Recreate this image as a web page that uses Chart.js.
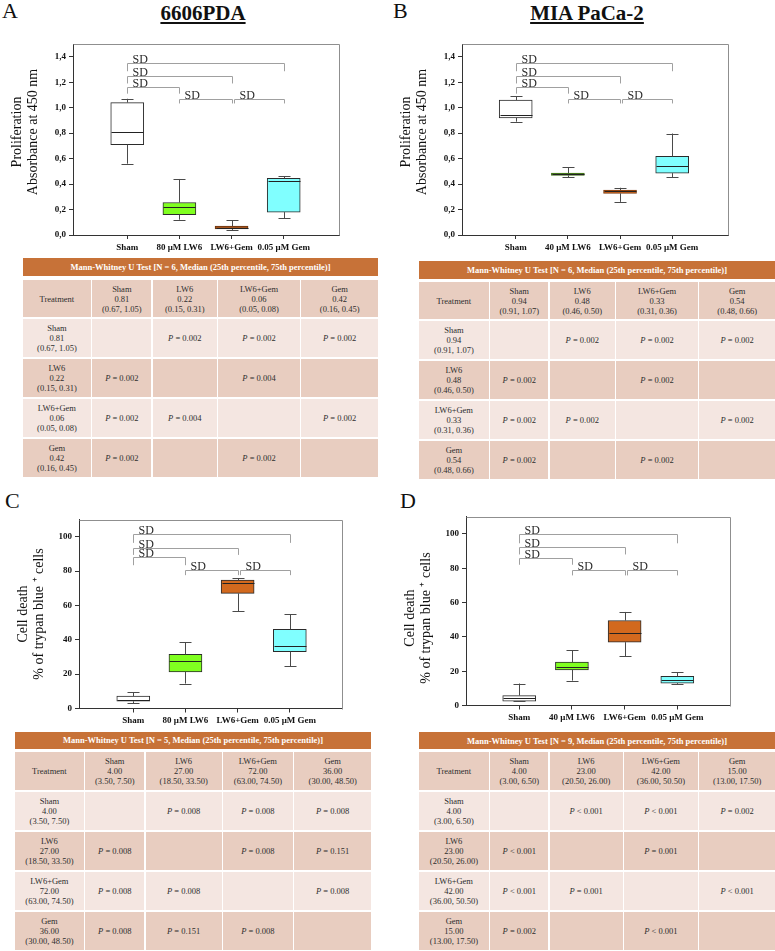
<!DOCTYPE html>
<html lang="en">
<head>
<meta charset="utf-8">
<title>LW6 / Gem – proliferation and cell death</title>
<script src="https://cdn.jsdelivr.net/npm/chart.js@4.4.1/dist/chart.umd.min.js"></script>
<style>
  body { margin: 0; background: #fff; font-family: "Liberation Serif", "Times New Roman", serif; }
  #page { position: relative; width: 775px; height: 951px; overflow: hidden; }
  .letter { position: absolute; font-size: 22px; line-height: 22px; color: #111; }
  .title  { position: absolute; font-size: 21px; line-height: 21px; font-weight: bold; color: #111;
            text-decoration: underline; transform: translateX(-50%); white-space: nowrap; }
  .plot   { position: absolute; }
  .mw-head { position: absolute; background: #c77238; color: #fff; font-weight: bold; font-size: 8.5px;
             display: flex; align-items: center; justify-content: center; white-space: nowrap; }
  .mw-grid { position: absolute; display: grid; gap: 1.5px; }
  .mw-grid div { display: flex; align-items: center; justify-content: center; text-align: center;
                 font-size: 8.5px; line-height: 10px; color: #2e2e2e; }
  .mw-grid .dark  { background: #e8cdc0; }
  .mw-grid .light { background: #f4e6e1; }

  #plotA { left: 0;     top: 30px;  width: 380px; height: 226px; }
  #plotB { left: 385px; top: 30px;  width: 390px; height: 226px; }
  #plotC { left: 0;     top: 505px; width: 380px; height: 225px; }
  #plotD { left: 385px; top: 505px; width: 390px; height: 225px; }

  #headA { left: 23px;  top: 258px; width: 355px; height: 18px; }
  #gridA { left: 23px;  top: 280px; width: 355px; grid-template-columns: 69fr 60fr 65fr 83fr 78fr;
           grid-template-rows: 37px 38.5px 38.5px 38.5px 38px; }
  #headB { left: 419px; top: 261px; width: 356px; height: 17.5px; }
  #gridB { left: 419px; top: 282px; width: 356px; grid-template-columns: 71fr 59fr 66fr 83fr 77fr;
           grid-template-rows: 37px 38.5px 38.5px 38.5px 38px; }
  #headC { left: 15px;  top: 732px; width: 356px; height: 16.5px; }
  #gridC { left: 15px;  top: 752px; width: 356px; grid-template-columns: 70fr 60fr 77fr 71fr 78fr;
           grid-template-rows: 38px 38.5px 38.5px 38.5px 38.5px; }
  #headD { left: 419px; top: 732px; width: 356px; height: 17px; }
  #gridD { left: 419px; top: 752px; width: 356px; grid-template-columns: 71fr 59fr 74fr 75fr 77fr;
           grid-template-rows: 38px 38.5px 38.5px 38.5px 38.5px; }
</style>
</head>
<body>
<div id="page">
  <div class="letter" style="left:2px;top:0">A</div>
  <div class="letter" style="left:393px;top:0">B</div>
  <div class="letter" style="left:5px;top:490px">C</div>
  <div class="letter" style="left:400px;top:490px">D</div>
  <div class="title" style="left:203px;top:3px">6606PDA</div>
  <div class="title" style="left:587px;top:3px">MIA PaCa-2</div>

  <div class="plot" id="plotA"><canvas id="chartA"></canvas></div>
  <div class="plot" id="plotB"><canvas id="chartB"></canvas></div>
  <div class="plot" id="plotC"><canvas id="chartC"></canvas></div>
  <div class="plot" id="plotD"><canvas id="chartD"></canvas></div>

  <div class="mw-head" id="headA"></div><div class="mw-grid" id="gridA"></div>
  <div class="mw-head" id="headB"></div><div class="mw-grid" id="gridB"></div>
  <div class="mw-head" id="headC"></div><div class="mw-grid" id="gridC"></div>
  <div class="mw-head" id="headD"></div><div class="mw-grid" id="gridD"></div>
</div>

<script>
// ------------------------------------------------------------
//  Datos
// ------------------------------------------------------------
const catsA = ['Sham', '80 μM LW6', 'LW6+Gem', '0.05 μM Gem']
const catsB = ['Sham', '40 μM LW6', 'LW6+Gem', '0.05 μM Gem']
const catsC = ['Sham', '80 μM LW6', 'LW6+Gem', '0.05 μM Gem']
const catsD = ['Sham', '40 μM LW6', 'LW6+Gem', '0.05 μM Gem']

// cajas: [min, q1, mediana, q3, max]
const boxA = [[0.56, 0.71, 0.81, 1.04, 1.07], [0.12, 0.16, 0.22, 0.255, 0.44],
              [0.04, 0.048, 0.057, 0.07, 0.115], [0.13, 0.18, 0.425, 0.445, 0.46]]
const boxB = [[0.89, 0.92, 0.94, 1.06, 1.09], [0.452, 0.468, 0.478, 0.486, 0.531],
              [0.26, 0.327, 0.343, 0.353, 0.371], [0.452, 0.486, 0.544, 0.617, 0.797]]
const boxC = [[3.2, 4.2, 5.0, 7.2, 9.5], [14.5, 21.3, 27.5, 31.5, 38.5],
              [56.5, 67.0, 72.8, 74.7, 75.7], [24.6, 33.1, 36.5, 46.1, 55.0]]
const boxD = [[2.5, 2.5, 4.2, 5.8, 12.8], [14.5, 20.7, 22.6, 25.3, 32.3],
              [28.6, 36.9, 42.0, 49.5, 54.5], [12.4, 13.0, 14.9, 17.0, 19.4]]

// corchetes "SD": pares de grupos y [altura de la línea, fin de las patas]
const sdPairs   = [[0, 3], [0, 2], [0, 1], [1, 2], [2, 3]]
const sdLevelsA = [[1.351, 1.286], [1.25, 1.19], [1.163, 1.11], [1.067, 1.033], [1.067, 1.033]]
const sdLevelsB = [[1.351, 1.286], [1.25, 1.19], [1.163, 1.11], [1.067, 1.033], [1.067, 1.033]]
const sdLevelsC = [[101.5, 96.4], [93.7, 89.4], [87.9, 83.4], [80.5, 77.6], [80.5, 77.6]]
const sdLevelsD = [[100, 94.5], [92.2, 88], [86, 82], [78.7, 75.8], [78.7, 75.8]]

const yTicksProlif  = [0, 0.2, 0.4, 0.6, 0.8, 1.0, 1.2, 1.4]
const yLabelsProlif = ['0,0', '0,2', '0,4', '0,6', '0,8', '1,0', '1,2', '1,4']
const yTicksDeath   = [0, 20, 40, 60, 80, 100]
const yLabelsDeath  = ['0', '20', '40', '60', '80', '100']

const yTitleProlif = ['Proliferation', 'Absorbance at 450 nm']
const yTitleDeath  = ['Cell death', '% of trypan blue ⁺ cells']

// tablas Mann-Whitney
const groupNames = ['Sham', 'LW6', 'LW6+Gem', 'Gem']
const nA = 6, nB = 6, nC = 5, nD = 9
const medA = ['0.81', '0.22', '0.06', '0.42']
const iqrA = ['(0.67, 1.05)', '(0.15, 0.31)', '(0.05, 0.08)', '(0.16, 0.45)']
const medB = ['0.94', '0.48', '0.33', '0.54']
const iqrB = ['(0.91, 1.07)', '(0.46, 0.50)', '(0.31, 0.36)', '(0.48, 0.66)']
const medC = ['4.00', '27.00', '72.00', '36.00']
const iqrC = ['(3.50, 7.50)', '(18.50, 33.50)', '(63.00, 74.50)', '(30.00, 48.50)']
const medD = ['4.00', '23.00', '42.00', '15.00']
const iqrD = ['(3.00, 6.50)', '(20.50, 26.00)', '(36.00, 50.50)', '(13.00, 17.50)']
const pA = [[null, '= 0.002', '= 0.002', '= 0.002'], ['= 0.002', null, '= 0.004', ''],
            ['= 0.002', '= 0.004', null, '= 0.002'], ['= 0.002', '', '= 0.002', null]]
const pB = [[null, '= 0.002', '= 0.002', '= 0.002'], ['= 0.002', null, '= 0.002', ''],
            ['= 0.002', '= 0.002', null, '= 0.002'], ['= 0.002', '', '= 0.002', null]]
const pC = [[null, '= 0.008', '= 0.008', '= 0.008'], ['= 0.008', null, '= 0.008', '= 0.151'],
            ['= 0.008', '= 0.008', null, '= 0.008'], ['= 0.008', '= 0.151', '= 0.008', null]]
const pD = [[null, '< 0.001', '< 0.001', '= 0.002'], ['< 0.001', null, '= 0.001', ''],
            ['< 0.001', '= 0.001', null, '< 0.001'], ['= 0.002', '', '< 0.001', null]]

// ------------------------------------------------------------
//  Plugin: bigotes, medianas, marco, corchetes y título del eje Y
// ------------------------------------------------------------
const SERIF = '"Liberation Serif", "Times New Roman", serif'
const px = v => Math.round(v) + 0.5

const boxPlugin = {
  id: 'boxplot',
  afterDatasetsDraw(chart, args, opts) {
    const { ctx, chartArea: a, scales: { x, y } } = chart
    ctx.save()

    // marco superior y derecho
    ctx.strokeStyle = '#8f8f8f'
    ctx.lineWidth = 1
    ctx.beginPath()
    ctx.moveTo(px(a.left), px(a.top))
    ctx.lineTo(px(a.right), px(a.top))
    ctx.lineTo(px(a.right), px(a.bottom))
    ctx.stroke()

    // bigotes y medianas
    opts.stats.forEach((s, i) => {
      const cx = px(x.getPixelForValue(i))
      const [lo, q1, med, q3, hi] = s.map(v => y.getPixelForValue(v))
      ctx.strokeStyle = '#4a4a4a'
      ctx.beginPath()
      ctx.moveTo(cx, hi); ctx.lineTo(cx, q3)
      ctx.moveTo(cx, q1); ctx.lineTo(cx, lo)
      ctx.moveTo(cx - 6, px(hi)); ctx.lineTo(cx + 6, px(hi))
      ctx.moveTo(cx - 6, px(lo)); ctx.lineTo(cx + 6, px(lo))
      ctx.stroke()
      ctx.strokeStyle = '#222'
      ctx.beginPath()
      ctx.moveTo(cx - 16, px(med)); ctx.lineTo(cx + 16, px(med))
      ctx.stroke()
    })

    // corchetes SD
    ctx.font = `12px ${SERIF}`
    ctx.textBaseline = 'alphabetic'
    ctx.textAlign = 'left'
    sdPairs.forEach((pair, k) => {
      const [line, leg] = opts.levels[k]
      const shared = sdPairs.some((o, j) => j !== k && o[1] === pair[0] && opts.levels[j][0] === line)
      const x1 = px(x.getPixelForValue(pair[0])) + (shared ? 2 : 0)
      const x2 = px(x.getPixelForValue(pair[1]))
      const yl = px(y.getPixelForValue(line))
      const yg = y.getPixelForValue(leg)
      ctx.strokeStyle = '#a0a0a0'
      ctx.beginPath()
      ctx.moveTo(x1, yg); ctx.lineTo(x1, yl); ctx.lineTo(x2, yl); ctx.lineTo(x2, yg)
      ctx.stroke()
      ctx.fillStyle = '#2a2a2a'
      ctx.fillText('SD', x1 + 5, yl - 1)
    })
    ctx.restore()
  },
  afterDraw(chart, args, opts) {
    const { ctx, chartArea: a } = chart
    ctx.save()
    ctx.translate(a.left - 36, (a.top + a.bottom) / 2 + opts.titleShift)
    ctx.rotate(-Math.PI / 2)
    ctx.font = `14px ${SERIF}`
    ctx.fillStyle = '#111'
    ctx.textAlign = 'center'
    ctx.fillText(opts.title[0], 0, -16)
    ctx.fillText(opts.title[1], 0, 0)
    ctx.restore()
  }
}

// ------------------------------------------------------------
//  Crear un gráfico de cajas
// ------------------------------------------------------------
function makeChart(id, cfg) {
  const tickFont = { family: SERIF, size: 9, weight: 'bold' }
  return new Chart(document.getElementById(id), {
    type: 'bar',
    data: {
      datasets: [{
        data:            cfg.stats.map((s, i) => ({ x: i, y: [s[1], s[3]] })),
        backgroundColor: cfg.colors,
        borderColor:     cfg.edges,
        borderWidth:     1,
        borderSkipped:   false,
        barThickness:    33,
      }]
    },
    options: {
      responsive:          true,
      maintainAspectRatio: false,
      animation:           false,
      layout: { padding: { top: cfg.padTop, right: cfg.padRight, left: 0, bottom: 0 } },
      plugins: {
        legend:  { display: false },
        tooltip: { enabled: false },
        boxplot: { stats: cfg.stats, levels: cfg.levels, title: cfg.title, titleShift: cfg.titleShift },
      },
      scales: {
        x: {
          type: 'linear', min: cfg.xMin, max: cfg.xMax, offset: false,
          afterBuildTicks: s => { s.ticks = cfg.cats.map((c, i) => ({ value: i })) },
          afterFit: s => { s.height = cfg.axisH },
          ticks:  { callback: (v, i) => cfg.cats[i], font: tickFont, color: '#111',
                    padding: 3, maxRotation: 0, autoSkip: false },
          grid:   { offset: false, drawOnChartArea: false, tickLength: 4, color: '#333' },
          border: { color: '#333' },
        },
        y: {
          min: 0, max: cfg.yMax,
          afterBuildTicks: s => { s.ticks = cfg.yTicks.map(v => ({ value: v })) },
          afterFit: s => { s.width = cfg.axisW },
          ticks:  { callback: (v, i) => cfg.yLabels[i], font: tickFont, color: '#111', padding: 3 },
          grid:   { drawOnChartArea: false, tickLength: 4, color: '#333' },
          border: { color: '#333' },
        }
      }
    },
    plugins: [boxPlugin]
  })
}

// ------------------------------------------------------------
//  Construir tablas Mann-Whitney
// ------------------------------------------------------------
function buildTable(key, n, meds, iqrs, pvals) {
  document.getElementById('head' + key).textContent =
    `Mann-Whitney U Test [N = ${n}, Median (25th percentile, 75th percentile)]`
  const grid = document.getElementById('grid' + key)

  const addCell = (cls, lines, pText) => {
    const d = document.createElement('div')
    d.className = cls
    if (pText) {
      const i = document.createElement('i')
      i.textContent = 'P'
      d.appendChild(i)
      d.appendChild(document.createTextNode('\u00a0' + pText))
    } else {
      lines.forEach((t, k) => {
        if (k) d.appendChild(document.createElement('br'))
        d.appendChild(document.createTextNode(t))
      })
    }
    grid.appendChild(d)
  }

  addCell('dark', ['Treatment'])
  groupNames.forEach((g, i) => addCell('dark', [g, meds[i], iqrs[i]]))
  groupNames.forEach((g, r) => {
    const cls = r % 2 === 0 ? 'light' : 'dark'
    addCell(cls, [g, meds[r], iqrs[r]])
    pvals[r].forEach(p => addCell(cls, [], p || null))
  })
}

// ------------------------------------------------------------
//  Arrancar
// ------------------------------------------------------------
const edgeDefault = '#2b2b2b'

makeChart('chartA', {
  cats: catsA, stats: boxA, levels: sdLevelsA, colors: ['#ffffff', '#80ff20', '#a3531c', '#80ffff'],
  edges: [edgeDefault, edgeDefault, '#6b3510', edgeDefault],
  yTicks: yTicksProlif, yLabels: yLabelsProlif, yMax: 1.5, xMin: -1.04, xMax: 4.06,
  axisW: 73, axisH: 21, padTop: 14, padRight: 41, title: yTitleProlif, titleShift: -7.5,
})
makeChart('chartB', {
  cats: catsB, stats: boxB, levels: sdLevelsB, colors: ['#ffffff', '#5a9a22', '#d2691e', '#80ffff'],
  edges: [edgeDefault, '#3d6b17', '#7a3a10', edgeDefault],
  yTicks: yTicksProlif, yLabels: yLabelsProlif, yMax: 1.5, xMin: -1.03, xMax: 4.07,
  axisW: 77, axisH: 21, padTop: 14, padRight: 47, title: yTitleProlif, titleShift: -7.5,
})
makeChart('chartC', {
  cats: catsC, stats: boxC, levels: sdLevelsC, colors: ['#ffffff', '#80ff20', '#d2691e', '#80ffff'],
  edges: [edgeDefault, edgeDefault, edgeDefault, edgeDefault],
  yTicks: yTicksDeath, yLabels: yLabelsDeath, yMax: 110, xMin: -1.04, xMax: 4.0,
  axisW: 79, axisH: 21.5, padTop: 14.5, padRight: 38, title: yTitleDeath, titleShift: 0,
})
makeChart('chartD', {
  cats: catsD, stats: boxD, levels: sdLevelsD, colors: ['#ffffff', '#80ff20', '#d2691e', '#80ffff'],
  edges: [edgeDefault, edgeDefault, edgeDefault, edgeDefault],
  yTicks: yTicksDeath, yLabels: yLabelsDeath, yMax: 110, xMin: -1.01, xMax: 4.0,
  axisW: 81, axisH: 24.5, padTop: 11.7, padRight: 45, title: yTitleDeath, titleShift: 7,
})

buildTable('A', nA, medA, iqrA, pA)
buildTable('B', nB, medB, iqrB, pB)
buildTable('C', nC, medC, iqrC, pC)
buildTable('D', nD, medD, iqrD, pD)
</script>
</body>
</html>
